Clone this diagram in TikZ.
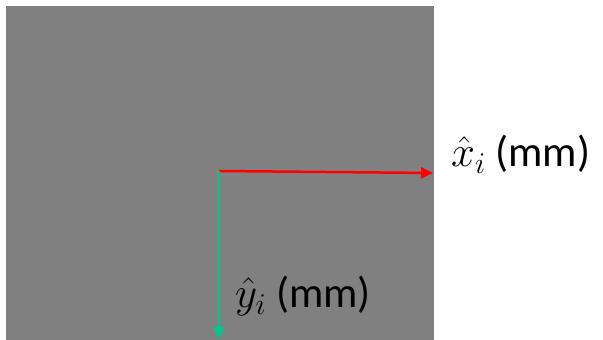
\RequirePackage{fix-cm}
\documentclass[tikz,border=0pt]{standalone}
\usepackage{fontspec}
\setmainfont{Carlito}
\usetikzlibrary{arrows.meta}
\definecolor{bggray}{RGB}{128,128,128}
\definecolor{axred}{RGB}{255,0,0}
\definecolor{axgreen}{RGB}{0,200,140}
\tikzset{
  axis/.style={line width=2.5pt,-{Triangle[length=12pt,width=11pt]}},
  lbl/.style={anchor=base west,inner sep=0pt,font=\fontsize{43}{50}\selectfont}
}
\begin{document}
\begin{tikzpicture}[x=1pt,y=1pt]
\useasboundingbox (0,0) rectangle (603,340);
\fill[bggray] (6,0) rectangle (434,334);
\coordinate (o) at (219,169);
\coordinate (xe) at (433,167);
\coordinate (ye) at (219,1);
\draw[axis,axred] (o) -- (xe);
\draw[axis,axgreen] (o) -- (ye);
\node[lbl] (xl) at (451,173) {$\hat{x}_i$ (mm)};
\node[lbl] (yl) at (235,32) {$\hat{y}_i$ (mm)};
\end{tikzpicture}
\end{document}
